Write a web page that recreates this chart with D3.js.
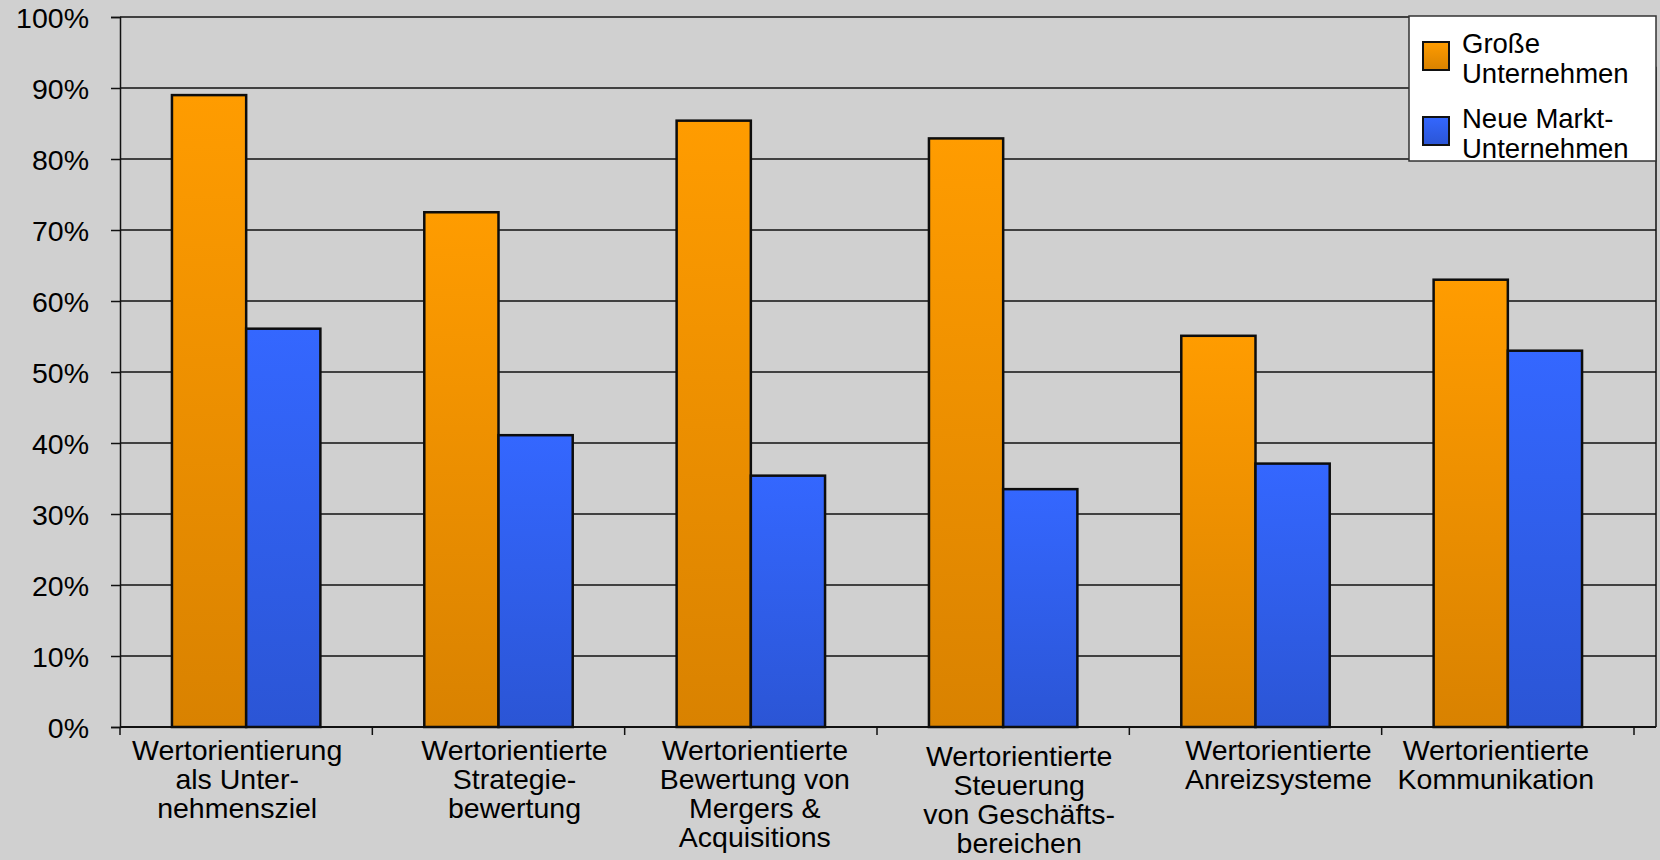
<!DOCTYPE html>
<html><head><meta charset="utf-8">
<script src="https://cdn.jsdelivr.net/npm/d3@7"></script>
<style>
html,body{margin:0;padding:0;background:#d0d0d0;}
svg{display:block;font-family:"Liberation Sans",Arial,sans-serif;}
</style></head>
<body>
<svg id="c" width="1660" height="860"></svg>
<script>
const categories = ["Wertorientierung als Unternehmensziel","Wertorientierte Strategiebewertung","Wertorientierte Bewertung von Mergers & Acquisitions","Wertorientierte Steuerung von Geschäftsbereichen","Wertorientierte Anreizsysteme","Wertorientierte Kommunikation"];
const categoryLines = [
  ["Wertorientierung","als Unter-","nehmensziel"],
  ["Wertorientierte","Strategie-","bewertung"],
  ["Wertorientierte","Bewertung von","Mergers &","Acquisitions"],
  ["Wertorientierte","Steuerung","von Geschäfts-","bereichen"],
  ["Wertorientierte","Anreizsysteme"],
  ["Wertorientierte","Kommunikation"]
];
const seriesNames = ["Große Unternehmen","Neue Markt-Unternehmen"];
const legendLines = [["Große","Unternehmen"],["Neue Markt-","Unternehmen"]];
const grosse = [0.89, 0.725, 0.854, 0.829, 0.551, 0.630];
const neueMarkt = [0.561, 0.411, 0.354, 0.335, 0.371, 0.530];
const yTicks = [0,0.1,0.2,0.3,0.4,0.5,0.6,0.7,0.8,0.9,1.0];

(function(){
const svg = d3.select("#c");
const mLeft=120, mRight=1634, plotRight=1656, mTop=17, mBottom=727;

const defs = svg.append("defs");
const grads = [["gO","#ff9c00","#d98200"],["gB","#3467ff","#2b55d5"]];
grads.forEach(([id,c1,c2])=>{
  const g=defs.append("linearGradient").attr("id",id).attr("x1",0).attr("y1",0).attr("x2",0).attr("y2",1);
  g.append("stop").attr("offset","0%").attr("stop-color",c1);
  g.append("stop").attr("offset","100%").attr("stop-color",c2);
});

const x = d3.scaleBand().domain(categories).range([mLeft,mRight]).paddingInner(0).paddingOuter(0);
const x1 = d3.scaleBand().domain(seriesNames).range([0,x.bandwidth()]).paddingInner(0).paddingOuter(0.7);
const y = d3.scaleLinear().domain([0,1]).range([mBottom,mTop]);

// gridlines
svg.append("g").selectAll("line").data(yTicks.slice(1)).join("line")
  .attr("x1",mLeft).attr("x2",plotRight).attr("y1",d=>y(d)).attr("y2",d=>y(d))
  .attr("stroke","#111").attr("stroke-width",1.5);
// right border
svg.append("line").attr("x1",plotRight).attr("x2",plotRight).attr("y1",y(0.93)).attr("y2",mBottom)
  .attr("stroke","#111").attr("stroke-width",1.5);

// y axis
const yAxis = svg.append("g").attr("transform",`translate(${mLeft},0)`)
  .call(d3.axisLeft(y).tickValues(yTicks).tickFormat(d3.format(".0%")).tickSize(9).tickPadding(22));
yAxis.select(".domain").attr("stroke","#111").attr("stroke-width",1.5);
yAxis.selectAll(".tick line").attr("stroke","#111").attr("stroke-width",1.5);
yAxis.selectAll(".tick text").attr("font-size",28.5).attr("fill","#000")
  .attr("font-family","'Liberation Sans',Arial,sans-serif").attr("dy","0.38em");

// x axis
svg.append("line").attr("x1",mLeft).attr("x2",plotRight).attr("y1",mBottom).attr("y2",mBottom)
  .attr("stroke","#111").attr("stroke-width",2);
const tickPos = categories.map(c=>x(c)).concat([mRight]);
svg.append("g").selectAll("line").data(tickPos).join("line")
  .attr("x1",d=>d).attr("x2",d=>d).attr("y1",mBottom).attr("y2",mBottom+8)
  .attr("stroke","#111").attr("stroke-width",1.5);

// bars
const data = categories.map((c,i)=>({c, vals:[grosse[i],neueMarkt[i]]}));
const groups = svg.append("g").selectAll("g").data(data).join("g")
  .attr("transform",d=>`translate(${x(d.c)},0)`);
groups.selectAll("rect").data(d=>d.vals.map((v,j)=>({v,s:seriesNames[j],j}))).join("rect")
  .attr("x",d=>x1(d.s)).attr("width",x1.bandwidth())
  .attr("y",d=>y(d.v)).attr("height",d=>y(0)-y(d.v))
  .attr("fill",d=>d.j===0?"url(#gO)":"url(#gB)")
  .attr("stroke","#0d0d0d").attr("stroke-width",2.5);

// x labels
const labelShift = [0,0,0,6,0,0];
const labelDx = [-9,16,4,16,23,-12];
const lab = svg.append("g").selectAll("text").data(categories).join("text")
  .attr("text-anchor","middle").attr("font-size",28.5).attr("fill","#000")
  .attr("x",(d,i)=>x(d)+x.bandwidth()/2+labelDx[i])
  .attr("y",(d,i)=>760+labelShift[i]);
lab.each(function(d,i){
  d3.select(this).selectAll("tspan").data(categoryLines[i]).join("tspan")
    .attr("x",x(d)+x.bandwidth()/2+labelDx[i]).attr("dy",(t,k)=>k===0?0:29).text(t=>t);
});

// legend
const lg = svg.append("g");
lg.append("rect").attr("x",1409).attr("y",16).attr("width",247).attr("height",145)
  .attr("fill","#fff").attr("stroke","#333").attr("stroke-width",1.5);
const lgItems = lg.selectAll("g").data(seriesNames).join("g")
  .attr("transform",(d,i)=>`translate(1423,${42+i*75})`);
lgItems.append("rect").attr("width",26).attr("height",28)
  .attr("fill",(d,i)=>i===0?"url(#gO)":"url(#gB)").attr("stroke","#111").attr("stroke-width",2);
lgItems.append("text").attr("x",39).attr("y",11).attr("font-size",27.5).attr("fill","#000")
  .each(function(d,i){
    d3.select(this).selectAll("tspan").data(legendLines[i]).join("tspan")
      .attr("x",39).attr("dy",(t,k)=>k===0?0:29.5).text(t=>t);
  });
})();
</script>
</body></html>
